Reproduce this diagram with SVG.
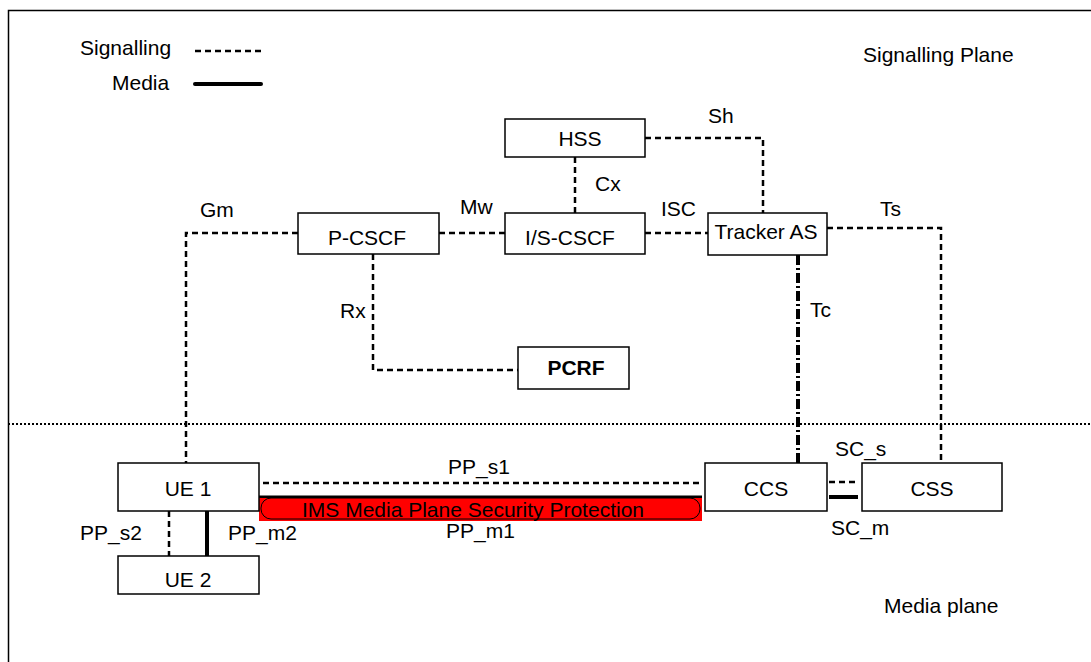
<svg xmlns="http://www.w3.org/2000/svg" width="1091" height="662" viewBox="0 0 1091 662">
<style>
text{font-family:"Liberation Sans",Arial,sans-serif;font-size:21px;fill:#000}
.c{text-anchor:middle}
.box{fill:#fff;stroke:#000;stroke-width:1.5}
.sig{fill:none;stroke:#000;stroke-width:2.5;stroke-dasharray:6 4}
.med{fill:none;stroke:#000;stroke-width:4}
</style>
<rect width="1091" height="662" fill="#fff"/>
<path d="M8.5 662 V10.5 H1091" fill="none" stroke="#000" stroke-width="1.5"/>
<g id="legend">
<text x="80" y="55">Signalling</text>
<line x1="195" y1="51" x2="263" y2="51" class="sig" stroke-width="2"/>
<text x="112" y="90">Media</text>
<line x1="195" y1="84" x2="261" y2="84" class="med" stroke-linecap="round"/>
</g>
<text x="863" y="62">Signalling Plane</text>
<text x="884" y="613">Media plane</text>
<line x1="8" y1="424" x2="1091" y2="424" stroke="#000" stroke-width="2" stroke-dasharray="2 2"/>
<g id="connectors">
<path class="sig" d="M298 233 H186 V463"/>
<line class="sig" x1="439" y1="233" x2="505" y2="233"/>
<line class="sig" x1="575" y1="157" x2="575" y2="213"/>
<line class="sig" x1="645" y1="233" x2="708" y2="233"/>
<path class="sig" d="M645 138 H763 V213"/>
<path class="sig" d="M827 228 H941 V463"/>
<path d="M798 255 V463" fill="none" stroke="#000" stroke-width="4" stroke-dasharray="10 3 2 3"/>
<path class="sig" stroke-width="3.5" stroke-dasharray="8 4" d="M373 254 V370 H518"/>
<line class="sig" x1="263" y1="483" x2="702" y2="483"/>
<line class="sig" x1="829" y1="482" x2="858" y2="482"/>
<line class="med" x1="829" y1="497" x2="858" y2="497"/>
<line class="sig" stroke-width="1.2" stroke-dasharray="4 3" x1="169" y1="511" x2="169" y2="556"/>
<line class="med" x1="207" y1="511" x2="207" y2="556"/>
<line x1="259" y1="497" x2="702" y2="497" stroke="#000" stroke-width="3"/>
<rect x="259" y="498" width="443" height="23" fill="#f00"/>
<rect x="261" y="498" width="439" height="21" rx="10" fill="#f00" stroke="#000" stroke-width="1"/>
<text x="473" y="517" class="c" font-size="22">IMS Media Plane Security Protection</text>
</g>
<g id="labels">
<text x="200" y="217">Gm</text>
<text x="460" y="214">Mw</text>
<text x="595" y="191">Cx</text>
<text x="661" y="216">ISC</text>
<text x="708" y="123">Sh</text>
<text x="880" y="216">Ts</text>
<text x="810" y="317">Tc</text>
<text x="340" y="318">Rx</text>
<text x="448" y="474">PP_s1</text>
<text x="446" y="538">PP_m1</text>
<text x="835" y="456">SC_s</text>
<text x="831" y="535">SC_m</text>
<text x="80" y="540">PP_s2</text>
<text x="228" y="540">PP_m2</text>
</g>
<g id="hss"><rect class="box" x="505" y="119" width="140" height="38"/><text class="c" x="580" y="146">HSS</text></g>
<g id="pcscf"><rect class="box" x="298" y="213" width="141" height="41"/><text class="c" x="367" y="245">P-CSCF</text></g>
<g id="iscscf"><rect class="box" x="505" y="213" width="140" height="41"/><text class="c" x="570" y="245">I/S-CSCF</text></g>
<g id="tracker"><rect class="box" x="708" y="213" width="119" height="42"/><text class="c" x="766" y="239">Tracker AS</text></g>
<g id="pcrf"><rect class="box" x="518" y="347" width="111" height="42"/><text class="c" x="576" y="375" font-weight="bold" font-size="19">PCRF</text></g>
<g id="ue1"><rect class="box" x="118" y="463" width="141" height="48"/><text class="c" x="188" y="496">UE 1</text></g>
<g id="ue2"><rect class="box" x="118" y="556" width="141" height="38"/><text class="c" x="188" y="587">UE 2</text></g>
<g id="ccs"><rect class="box" x="705" y="463" width="122" height="48"/><text class="c" x="766" y="496">CCS</text></g>
<g id="css"><rect class="box" x="862" y="463" width="140" height="48"/><text class="c" x="932" y="496">CSS</text></g>
</svg>
